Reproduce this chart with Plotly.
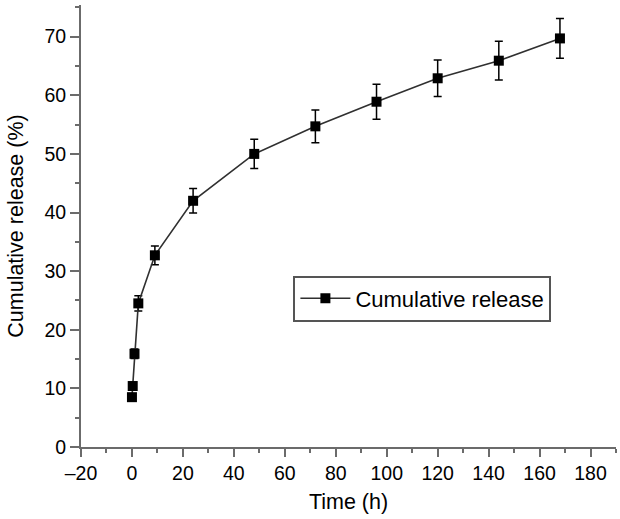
import plotly.graph_objects as go

time_h = [0, 0.3, 1, 2.5, 9, 24, 48, 72, 96, 120, 144, 168]
release = [8.5, 10.4, 15.9, 24.5, 32.7, 42.0, 50.0, 54.7, 58.9, 62.9, 65.9, 69.7]
err = [0.5, 0.6, 0.8, 1.3, 1.6, 2.1, 2.5, 2.8, 3.0, 3.1, 3.3, 3.4]

x_ticks = [-20, 0, 20, 40, 60, 80, 100, 120, 140, 160, 180]
x_tick_text = ["\u201320", "0", "20", "40", "60", "80", "100", "120", "140", "160", "180"]
y_ticks = [0, 10, 20, 30, 40, 50, 60, 70]

FONT = "Liberation Sans, Arial, sans-serif"
AX = "#6b6b6b"

fig = go.Figure()
fig.add_trace(go.Scatter(
    x=time_h, y=release, mode="lines+markers", name="Cumulative release",
    line=dict(color="#303030", width=1.6),
    marker=dict(symbol="square", size=10, color="black"),
    error_y=dict(type="data", array=err, visible=True, color="black", thickness=1.5, width=4),
))

axis_common = dict(
    showgrid=False, zeroline=False, showline=True, linecolor=AX, linewidth=2,
    ticks="outside", tickcolor=AX, tickwidth=2, automargin=False,
    tickfont=dict(family=FONT, size=19.5, color="black"),
)

fig.update_layout(
    width=620, height=519,
    margin=dict(l=81, r=4, t=5, b=72),
    paper_bgcolor="white", plot_bgcolor="white",
    font=dict(family=FONT, size=20, color="black"),
    xaxis=dict(range=[-20, 190], tickvals=x_ticks, ticktext=x_tick_text, ticklen=8,
               minor=dict(dtick=10, tick0=0, ticks="outside", ticklen=4, tickcolor=AX, tickwidth=2),
               title=dict(text="Time (h)", font=dict(family=FONT, size=21.5), standoff=11),
               **axis_common),
    yaxis=dict(range=[0, 75.4], tickvals=y_ticks, ticklen=9,
               minor=dict(dtick=5, tick0=0, ticks="outside", ticklen=4, tickcolor=AX, tickwidth=2),
               title=dict(text="Cumulative release (%)", font=dict(family=FONT, size=21.5), standoff=15),
               **axis_common),
    showlegend=True,
    legend=dict(x=0.397, y=0.388, xanchor="left", yanchor="top",
                bordercolor="#555555", borderwidth=2, bgcolor="white",
                font=dict(family=FONT, size=22), itemwidth=50),
)

fig.write_html("out.html", config={"displayModeBar": False},
               post_script="document.body.style.margin='0';document.body.style.overflow='hidden';")
